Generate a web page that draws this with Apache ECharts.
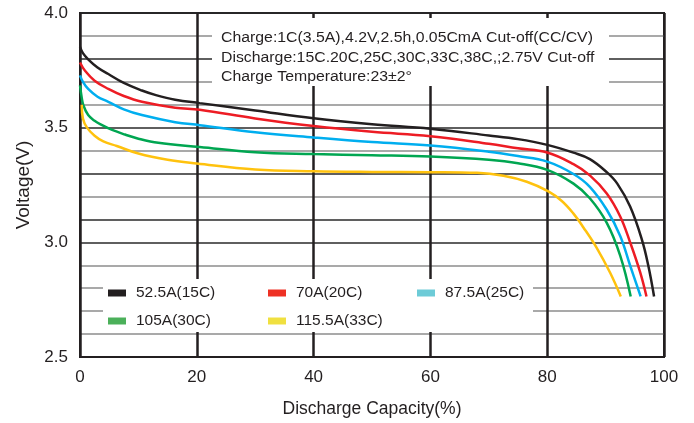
<!DOCTYPE html>
<html>
<head>
<meta charset="utf-8">
<script src="https://cdn.jsdelivr.net/npm/echarts@6/dist/echarts.min.js"></script>
<style>
html,body{margin:0;padding:0;background:#fff;}
#chart{width:694px;height:423px;}
</style>
</head>
<body>
<div id="chart"></div>
<script>
// ---- data (capacity %, voltage V) ----
const seriesNames = ['52.5A(15C)', '70A(20C)', '87.5A(25C)', '105A(30C)', '115.5A(33C)'];
const lineColors = ['#231f20', '#ed1c24', '#00aeef', '#00a651', '#ffc20e'];
const legendColors = ['#231f20', '#ee3124', '#6dcbd7', '#4bb05a', '#f0e040'];

const curve15C = [[0,3.852],[0.5,3.825],[1.4,3.798],[3,3.762],[4.85,3.734],[7.5,3.695],[10.6,3.662],[13,3.642],[16.3,3.622],[20.5,3.607],[30,3.575],[40,3.541],[50,3.515],[60,3.495],[70,3.466],[75,3.45],[80,3.425],[84.5,3.391],[87.3,3.363],[90.2,3.306],[92,3.256],[94.2,3.156],[96.2,3.013],[97.3,2.9],[98.3,2.764]];
const curve20C = [[0,3.784],[0.86,3.748],[2.5,3.705],[4.85,3.669],[7.5,3.638],[10.6,3.613],[16.3,3.587],[20.5,3.578],[30,3.54],[40,3.507],[50,3.482],[60,3.463],[70,3.43],[75,3.41],[80,3.392],[84.5,3.341],[87.3,3.292],[90.2,3.213],[92.5,3.113],[94.2,3.0],[95.9,2.871],[97.0,2.764]];
const curve25C = [[0,3.728],[0.5,3.70],[1.4,3.669],[3,3.635],[4.85,3.613],[7.5,3.58],[10.6,3.555],[16.3,3.524],[20.5,3.511],[30,3.48],[40,3.457],[50,3.437],[60,3.422],[70,3.395],[75,3.376],[80,3.352],[84.5,3.298],[87.3,3.242],[90.2,3.142],[92.5,3.028],[94.2,2.899],[96.0,2.764]];
const curve30C = [[0,3.684],[0.3,3.63],[0.57,3.598],[1.4,3.555],[2.5,3.53],[3.7,3.512],[5.5,3.49],[7.7,3.47],[10,3.452],[13.4,3.434],[20.5,3.416],[30,3.393],[40,3.385],[50,3.38],[60,3.374],[70,3.36],[75,3.345],[80,3.316],[84.5,3.256],[87.3,3.192],[90.2,3.085],[92.5,2.942],[94.3,2.764]];
const curve33C = [[0.3,3.60],[0.5,3.54],[1.2,3.50],[2.5,3.465],[4,3.44],[6.3,3.42],[10,3.387],[15,3.36],[20,3.344],[30,3.318],[40,3.31],[50,3.307],[60,3.306],[68,3.303],[72.5,3.29],[76.5,3.264],[80.2,3.222],[82.5,3.18],[84.5,3.125],[86.2,3.065],[88.5,2.975],[90.8,2.866],[92.6,2.764]];
const seriesData = [curve15C, curve20C, curve25C, curve30C, curve33C];

const xTicks = [0, 20, 40, 60, 80, 100];
const yLabelTicks = [2.5, 3.0, 3.5, 4.0];
const noteLines = [
  'Charge:1C(3.5A),4.2V,2.5h,0.05CmA Cut-off(CC/CV)',
  'Discharge:15C.20C,25C,30C,33C,38C,;2.75V Cut-off',
  'Charge Temperature:23\u00b12\u00b0'
];

// ---- chart ----
const FONT = '"Liberation Sans", Arial, Helvetica, sans-serif';
const TXT = '#231f20';
const D = '#2a2a2a', G = '#8c8c8c';
// colours of horizontal grid lines from 2.5 to 4.0
const hLineColors = [D, G, G, G, G, D, D, G, D, G, D, G, G, D, G, D];

const chart = echarts.init(document.getElementById('chart'), null, {renderer: 'canvas'});

const legendPos = [[108, 285], [268, 285], [417, 285], [108, 313], [268, 313]];
const legends = seriesNames.map((n, i) => ({
  data: [{name: n, itemStyle: {color: legendColors[i]}}],
  left: legendPos[i][0], top: legendPos[i][1],
  padding: 0, itemWidth: 18, itemHeight: 7, icon: 'rect',
  selectedMode: false, z: 10,
  textStyle: {fontFamily: FONT, fontSize: 15.5, color: TXT, lineHeight: 16, padding: [0, 0, 0, 5]}
}));

const option = {
  backgroundColor: '#fff',
  animation: false,
  grid: {left: 80, top: 13, width: 584, height: 350, show: true, borderColor: '#231f20', borderWidth: 2, backgroundColor: 'transparent'},
  xAxis: {
    type: 'value', min: 0, max: 100, interval: 20,
    axisLine: {show: true, lineStyle: {color: '#231f20', width: 2}},
    axisTick: {show: false},
    axisLabel: {fontFamily: FONT, fontSize: 17, color: TXT, margin: 12,
      formatter: v => xTicks.includes(v) ? String(v) : ''},
    splitLine: {show: true, lineStyle: {color: '#231f20', width: 2.5}},
    name: 'Discharge Capacity(%)', nameLocation: 'middle', nameGap: 43,
    nameTextStyle: {fontFamily: FONT, fontSize: 17.5, color: TXT}
  },
  yAxis: {
    type: 'value', min: 2.5, max: 4.0, interval: 0.1,
    axisLine: {show: true, lineStyle: {color: '#231f20', width: 2}},
    axisTick: {show: false},
    axisLabel: {fontFamily: FONT, fontSize: 17, color: TXT, margin: 12,
      formatter: v => {
        const hit = yLabelTicks.find(t => Math.abs(t - v) < 1e-6);
        return hit !== undefined ? hit.toFixed(1) : '';
      }},
    splitLine: {show: true, showMinLine: true, showMaxLine: true, lineStyle: {color: hLineColors, width: 1.5}},
    name: 'Voltage(V)', nameLocation: 'middle', nameGap: 44,
    nameTextStyle: {fontFamily: FONT, fontSize: 19, color: TXT}
  },
  legend: legends,
  graphic: [
    {type: 'rect', left: 212, top: 18, shape: {width: 397, height: 68}, style: {fill: '#fff'}, z: 5},
    {type: 'rect', left: 103, top: 279, shape: {width: 430, height: 53}, style: {fill: '#fff'}, z: 5},
    ...noteLines.map((t, i) => ({
      type: 'text', x: 221, y: [38, 58, 77][i], scaleX: 1.13, z: 6,
      style: {text: t, font: '14px ' + FONT, fill: TXT, textVerticalAlign: 'middle', textAlign: 'left'}
    }))
  ],
  series: seriesData.map((d, i) => ({
    name: seriesNames[i], type: 'line', data: d, smooth: 0.4,
    showSymbol: false, symbol: 'none', z: 3,
    lineStyle: {color: lineColors[i], width: 2.5},
    itemStyle: {color: lineColors[i]}
  }))
};
chart.setOption(option);
</script>
</body>
</html>
